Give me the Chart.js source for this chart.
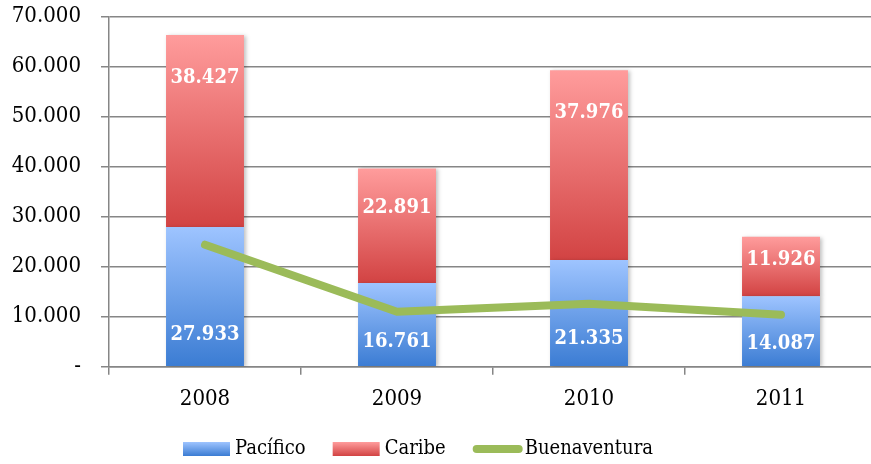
<!DOCTYPE html>
<html>
<head>
<meta charset="utf-8">
<script src="https://cdn.jsdelivr.net/npm/chart.js@4.4.1/dist/chart.umd.min.js"></script>
<style>
  body { margin: 0; background: #fff; }
  #wrap { width: 871px; height: 464px; overflow: hidden; position: relative; }
  #box { width: 877px; height: 464px; position: relative; }
</style>
</head>
<body>
<div id="wrap"><div id="box"><canvas id="chart"></canvas></div></div>
<script>
// Data
const years = ['2008', '2009', '2010', '2011'];
const pacifico = [27933, 16761, 21335, 14087];
const caribe = [38427, 22891, 37976, 11926];
const buenaventura = [24400, 11000, 12600, 10400];
const yTicks = [0, 10000, 20000, 30000, 40000, 50000, 60000, 70000];

const FONT = "'DejaVu Serif Condensed', 'DejaVu Serif', serif";
const GRID = '#868686';

const fmt = (v) => String(v).replace(/\B(?=(\d{3})+(?!\d))/g, '.');

// colours: [top, bottom] of each bar gradient
const blueStops = ['#9ec4ff', '#3b7cd3'];
const redStops = ['#ff9c9c', '#d24343'];

function barGradient(context, stops) {
    const chart = context.chart;
    if (!chart.chartArea || context.type !== 'data') return stops[1];
    const i = context.dataIndex;
    const start = context.datasetIndex === 0 ? 0 : pacifico[i];
    const end = start + context.raw;
    const y = chart.scales.y;
    const g = chart.ctx.createLinearGradient(0, y.getPixelForValue(end), 0, y.getPixelForValue(start));
    g.addColorStop(0, stops[0]);
    g.addColorStop(1, stops[1]);
    return g;
}

// soft shadow behind the bars, like the original
const barShadow = {
    id: 'barShadow',
    beforeDatasetDraw(chart, args) {
        if (args.meta.type !== 'bar') return;
        const ctx = chart.ctx;
        ctx.save();
        ctx.shadowColor = 'rgba(0,0,0,0.25)';
        ctx.shadowBlur = 4;
        ctx.shadowOffsetX = 2;
        ctx.shadowOffsetY = 1;
    },
    afterDatasetDraw(chart, args) {
        if (args.meta.type !== 'bar') return;
        chart.ctx.restore();
    }
};

// white value labels inside the stacked segments
const valueLabels = {
    id: 'valueLabels',
    afterDatasetsDraw(chart) {
        const ctx = chart.ctx;
        ctx.save();
        ctx.font = 'bold 20px ' + FONT;
        ctx.fillStyle = '#ffffff';
        ctx.textAlign = 'center';
        ctx.textBaseline = 'middle';
        [0, 1].forEach(di => {
            const meta = chart.getDatasetMeta(di);
            const data = chart.data.datasets[di].data;
            meta.data.forEach((el, i) => {
                const h = Math.abs(el.base - el.y);
                let y;
                if (di === 0) y = el.base - (14 + 0.12 * h);
                else y = el.y + Math.min(43, 5 + 0.3 * h);
                ctx.fillText(fmt(data[i]), el.x, y);
            });
        });
        ctx.restore();
    }
};

// legend drawn under the axis, Excel style
const bottomLegend = {
    id: 'bottomLegend',
    afterDraw(chart) {
        const ctx = chart.ctx;
        const items = [
            { label: 'Pacífico', stops: blueStops },
            { label: 'Caribe', stops: redStops },
            { label: 'Buenaventura', line: '#9bbb59' }
        ];
        const cy = 449;
        let x = 183;
        ctx.save();
        ctx.font = '20px ' + FONT;
        ctx.textBaseline = 'middle';
        ctx.textAlign = 'left';
        items.forEach(it => {
            if (it.line) {
                ctx.strokeStyle = it.line;
                ctx.lineWidth = 8;
                ctx.lineCap = 'round';
                ctx.beginPath();
                ctx.moveTo(x + 4, cy);
                ctx.lineTo(x + 46, cy);
                ctx.stroke();
            } else {
                const g = ctx.createLinearGradient(0, cy - 7, 0, cy + 7);
                g.addColorStop(0, it.stops[0]);
                g.addColorStop(1, it.stops[1]);
                ctx.fillStyle = g;
                ctx.fillRect(x, cy - 7, 47, 14);
            }
            ctx.fillStyle = '#000';
            ctx.fillText(it.label, x + 52, cy);
            x += 52 + ctx.measureText(it.label).width + 27;
        });
        ctx.restore();
    }
};

new Chart(document.getElementById('chart'), {
    data: {
        labels: years,
        datasets: [
            {
                type: 'bar',
                label: 'Pacífico',
                data: pacifico,
                backgroundColor: (c) => barGradient(c, blueStops),
                borderWidth: 0,
                stack: 'bars',
                order: 1
            },
            {
                type: 'bar',
                label: 'Caribe',
                data: caribe,
                backgroundColor: (c) => barGradient(c, redStops),
                borderWidth: 0,
                stack: 'bars',
                order: 1
            },
            {
                type: 'line',
                label: 'Buenaventura',
                data: buenaventura,
                borderColor: '#9bbb59',
                borderWidth: 8,
                borderCapStyle: 'round',
                borderJoinStyle: 'round',
                pointRadius: 0,
                tension: 0,
                fill: false,
                stack: 'line',
                order: 0
            }
        ]
    },
    options: {
        responsive: true,
        maintainAspectRatio: false,
        animation: false,
        layout: { padding: { top: 16.7, bottom: 55.3, left: 0, right: 0 } },
        datasets: { bar: { barPercentage: 0.406, categoryPercentage: 1 } },
        plugins: {
            legend: { display: false },
            tooltip: { enabled: false }
        },
        scales: {
            x: {
                stacked: true,
                offset: true,
                grid: { drawOnChartArea: false, drawTicks: true, tickLength: 8, color: GRID, lineWidth: 1.5 },
                border: { display: true, color: GRID, width: 1.5 },
                ticks: { color: '#000', font: { family: FONT, size: 22 }, padding: 11 },
                afterFit: (s) => {
                    s.height = 42;
                    s.paddingLeft = 0; s.paddingRight = 0;
                }
            },
            y: {
                stacked: true,
                min: 0,
                max: 70000,
                afterBuildTicks: (s) => { s.ticks = yTicks.map(v => ({ value: v })); },
                grid: { color: GRID, lineWidth: 1.5, tickLength: 8 },
                border: { display: true, color: GRID, width: 1.5 },
                ticks: {
                    color: '#000',
                    font: { family: FONT, size: 22 },
                    padding: 20,
                    callback: (v) => v === 0 ? '-' : fmt(v)
                },
                afterFit: (s) => {
                    s.width = 109;
                    s.paddingTop = 0; s.paddingBottom = 0;
                }
            }
        }
    },
    plugins: [barShadow, valueLabels, bottomLegend]
});
</script>
</body>
</html>
